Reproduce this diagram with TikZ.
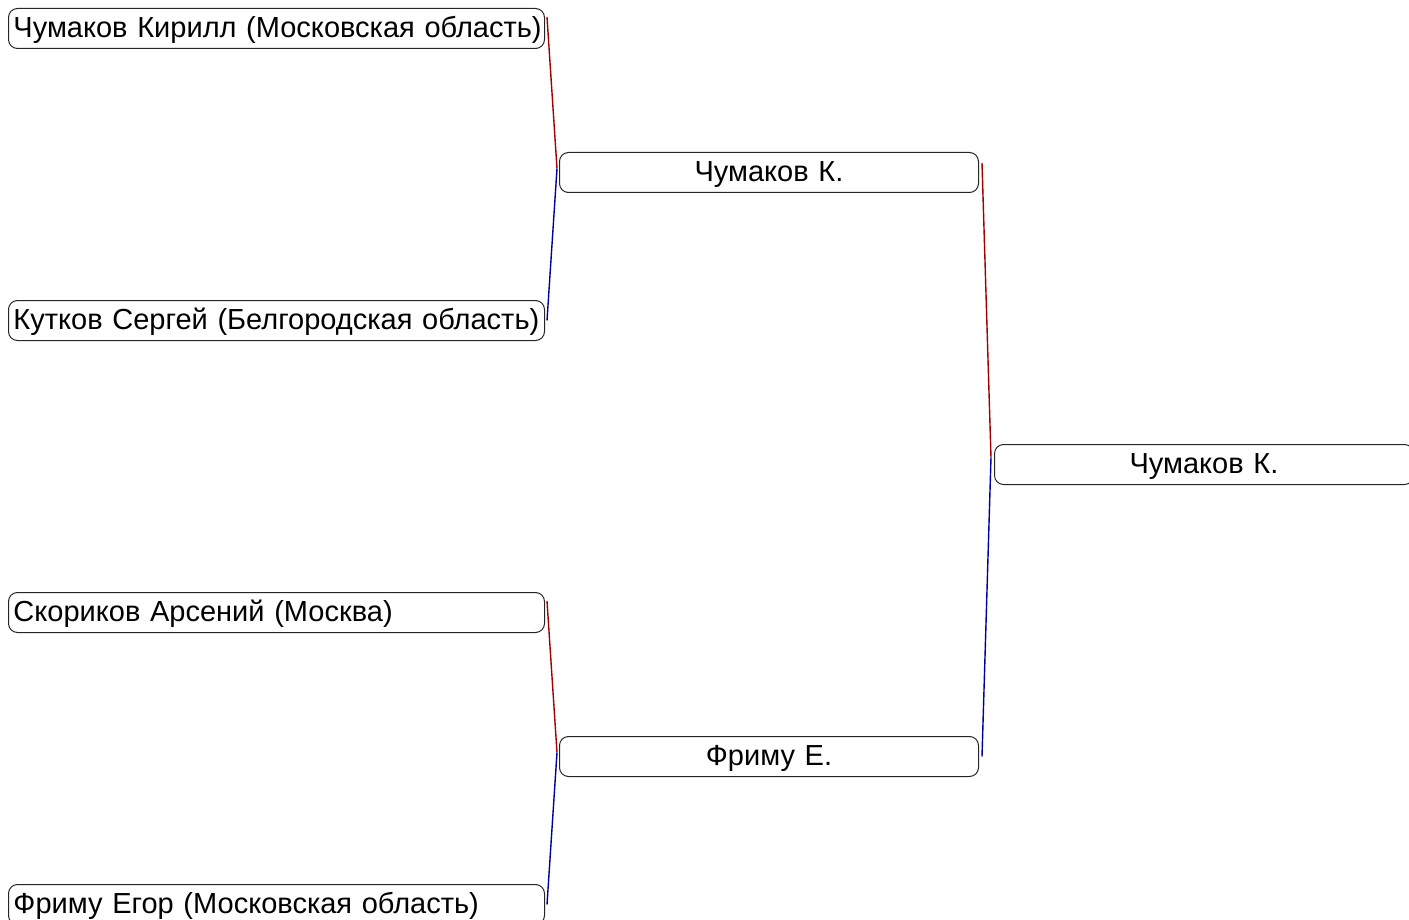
\documentclass[tikz,border=0pt]{standalone}
\usepackage{fontspec}
\setmainfont{Liberation Sans}
\usepackage{xcolor}
\definecolor{winred}{RGB}{160,0,0}
\definecolor{losblue}{RGB}{0,0,160}

\begin{document}
\begin{tikzpicture}[x=1pt,y=-1pt,
	every node/.style={font=\fontsize{29}{34}\selectfont},
	entry/.style={draw=black!85,line width=1pt,rounded corners=9pt,anchor=north west,
		minimum height=40pt,inner sep=0pt,text height=21pt,text depth=3pt},
	player/.style={entry,text width=536pt,align=left,execute at begin node={\hspace*{5pt}}},
	winner/.style={entry,text width=419pt,align=center},
	upper/.style={winred,line width=1.4pt},
	lower/.style={losblue,line width=1.4pt}]
	\useasboundingbox (0,0) rectangle (1409,920);
	\clip (0,0) rectangle (1409,920);

	% first round
	\node[player] (p1) at (8,8) {Чумаков Кирилл (Московская область)};
	\node[player] (p2) at (8,300) {Кутков Сергей (Белгородская область)};
	\node[player] (p3) at (8,592) {Скориков Арсений (Москва)};
	\node[player] (p4) at (8,884) {Фриму Егор (Московская область)};

	% semifinal and final
	\node[winner] (s1) at (559,152) {Чумаков К.};
	\node[winner] (s2) at (559,736) {Фриму Е.};
	\node[winner] (f) at (994,444) {Чумаков К.};

	\coordinate (m1) at ([xshift=-2pt,yshift=4pt]s1.west);
	\coordinate (m2) at ([xshift=-2pt,yshift=4pt]s2.west);
	\coordinate (m3) at ([xshift=-3pt,yshift=7pt]f.west);

	\draw[upper] ([xshift=2pt,yshift=-9pt]p1.north east) -- (m1);
	\draw[lower] (m1) -- ([xshift=2pt]p2.east);
	\draw[upper] ([xshift=2pt,yshift=-9pt]p3.north east) -- (m2);
	\draw[lower] (m2) -- ([xshift=2pt]p4.east);
	\draw[upper] ([xshift=3pt,yshift=-11pt]s1.north east) -- (m3);
	\draw[lower] (m3) -- ([xshift=3pt]s2.east);
\end{tikzpicture}
\end{document}
